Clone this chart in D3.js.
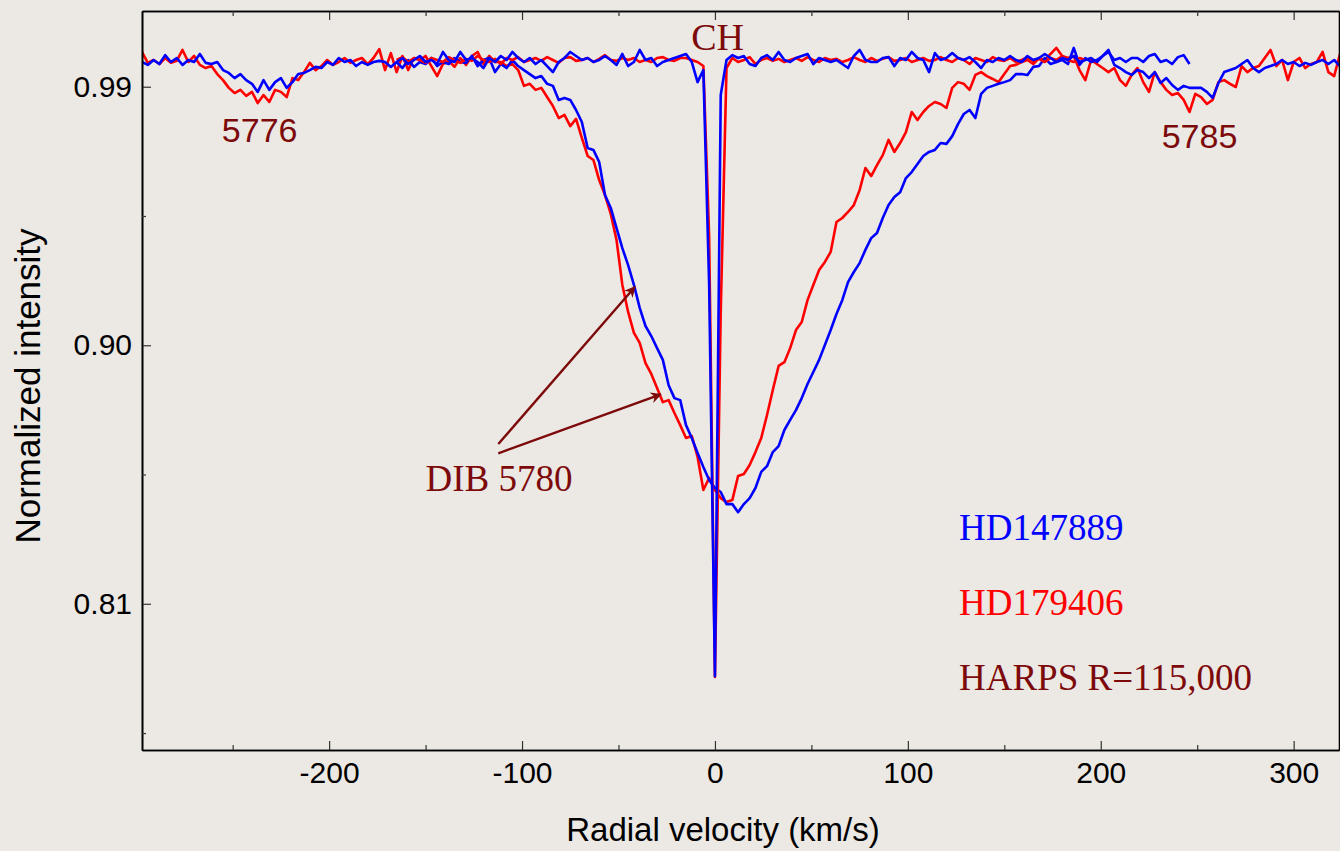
<!DOCTYPE html>
<html>
<head>
<meta charset="utf-8">
<script src="https://cdn.jsdelivr.net/npm/d3@7"></script>
<style>
  body { margin: 0; background: #ece8e4; }
  svg { display: block; }
  .tick text { font-family: "Liberation Sans", Arial, sans-serif; font-size: 30px; fill: #000; }
</style>
</head>
<body>
<svg id="chart" width="1340" height="851"></svg>
<script>
// velocity grid of the spectra (km/s)
const dibStart = -297;
const chStart = -165;
const velStep = 3;

// HD179406, full range (DIB 5776, 5780, 5785)
const redDib = [
  1.0021, 0.9983, 0.9993, 0.9979, 1.0000, 0.9983, 0.9990, 1.0028, 0.9986, 1.0007,
  0.9976, 0.9965, 0.9972, 0.9944, 0.9923, 0.9896, 0.9878, 0.9889, 0.9868, 0.9882,
  0.9843, 0.9871, 0.9847, 0.9889, 0.9882, 0.9864, 0.9930, 0.9923, 0.9951, 0.9983,
  0.9958, 0.9972, 0.9993, 0.9976, 0.9986, 1.0000, 0.9983, 0.9993, 1.0000, 0.9979,
  1.0000, 1.0031, 0.9958, 1.0017, 0.9951, 1.0007, 0.9958, 1.0000, 0.9993, 1.0007,
  0.9972, 0.9937, 0.9979, 0.9990, 0.9969, 1.0000, 0.9976, 1.0007, 1.0021, 0.9979,
  1.0007, 0.9986, 0.9986, 0.9972, 0.9979, 0.9958, 0.9903, 0.9910, 0.9889, 0.9896,
  0.9864, 0.9833, 0.9791, 0.9802, 0.9763, 0.9788, 0.9722, 0.9659, 0.9645, 0.9575,
  0.9523, 0.9457, 0.9366, 0.9210, 0.9116, 0.9043, 0.9008, 0.8938, 0.8900, 0.8851,
  0.8802, 0.8809, 0.8764, 0.8722, 0.8677, 0.8684, 0.8611, 0.8496, 0.8538, 0.8496,
  0.8468, 0.8454, 0.8461, 0.8545, 0.8552, 0.8583, 0.8628, 0.8677, 0.8757, 0.8844,
  0.8928, 0.8941, 0.8990, 0.9053, 0.9081, 0.9157, 0.9210, 0.9262, 0.9290, 0.9325,
  0.9429, 0.9443, 0.9464, 0.9488, 0.9540, 0.9617, 0.9589, 0.9627, 0.9662, 0.9715,
  0.9673, 0.9704, 0.9742, 0.9812, 0.9784, 0.9812, 0.9833, 0.9847, 0.9840, 0.9826,
  0.9896, 0.9916, 0.9910, 0.9889, 0.9941, 0.9951, 0.9937, 0.9927, 0.9916, 0.9944,
  0.9972, 0.9976, 0.9986, 0.9993, 0.9979, 1.0000, 0.9993, 1.0014, 1.0035, 1.0007,
  1.0000, 1.0007, 0.9958, 0.9923, 0.9993, 0.9979, 0.9965, 0.9951, 0.9965, 0.9923,
  0.9903, 0.9941, 0.9965, 0.9916, 0.9882, 0.9951, 0.9916, 0.9889, 0.9871, 0.9878,
  0.9854, 0.9812, 0.9875, 0.9864, 0.9840, 0.9854, 0.9916, 0.9923, 0.9910, 0.9899,
  0.9972, 0.9951, 0.9965, 0.9972, 1.0000, 1.0028, 0.9972, 0.9993, 0.9923, 0.9986,
  1.0000, 0.9965, 0.9979, 0.9986, 1.0021, 0.9951, 0.9937, 1.0014
];

// HD147889, full range
const blueDib = [
  0.9986, 0.9976, 0.9993, 0.9979, 1.0010, 0.9986, 1.0000, 0.9976, 0.9993, 0.9986,
  1.0014, 0.9983, 0.9979, 0.9986, 0.9958, 0.9948, 0.9930, 0.9944, 0.9923, 0.9910,
  0.9882, 0.9923, 0.9889, 0.9916, 0.9930, 0.9896, 0.9916, 0.9944, 0.9948, 0.9958,
  0.9969, 0.9965, 0.9986, 0.9976, 1.0000, 0.9986, 0.9993, 0.9972, 0.9986, 0.9976,
  0.9986, 0.9990, 0.9986, 0.9969, 0.9986, 0.9965, 0.9993, 0.9969, 0.9986, 0.9979,
  1.0000, 0.9972, 0.9986, 0.9979, 1.0000, 0.9986, 0.9983, 1.0007, 0.9972, 0.9993,
  1.0000, 0.9951, 0.9979, 0.9965, 0.9993, 0.9972, 0.9958, 0.9944, 0.9930, 0.9937,
  0.9910, 0.9903, 0.9854, 0.9861, 0.9854, 0.9819, 0.9777, 0.9687, 0.9680, 0.9638,
  0.9523, 0.9478, 0.9408, 0.9338, 0.9279, 0.9210, 0.9130, 0.9067, 0.9032, 0.8990,
  0.8949, 0.8861, 0.8816, 0.8809, 0.8722, 0.8677, 0.8625, 0.8576, 0.8531, 0.8503,
  0.8489, 0.8447, 0.8447, 0.8419, 0.8447, 0.8468, 0.8503, 0.8559, 0.8579, 0.8628,
  0.8649, 0.8705, 0.8740, 0.8774, 0.8816, 0.8865, 0.8907, 0.8949, 0.9001, 0.9053,
  0.9109, 0.9157, 0.9220, 0.9255, 0.9286, 0.9332, 0.9373, 0.9391, 0.9443, 0.9488,
  0.9516, 0.9533, 0.9582, 0.9603, 0.9631, 0.9659, 0.9673, 0.9680, 0.9704, 0.9701,
  0.9728, 0.9770, 0.9805, 0.9819, 0.9791, 0.9875, 0.9896, 0.9903, 0.9910, 0.9916,
  0.9923, 0.9944, 0.9944, 0.9941, 0.9969, 0.9972, 1.0000, 0.9979, 0.9986, 0.9993,
  0.9979, 1.0035, 0.9976, 1.0000, 0.9986, 0.9993, 1.0007, 1.0028, 0.9976, 0.9965,
  0.9951, 0.9941, 0.9958, 0.9951, 0.9930, 0.9951, 0.9913, 0.9930, 0.9906, 0.9889,
  0.9903, 0.9896, 0.9896, 0.9896, 0.9882, 0.9861, 0.9913, 0.9951, 0.9958, 0.9965,
  0.9979, 0.9993, 0.9965, 0.9951, 0.9965, 0.9972, 0.9979, 0.9993, 0.9979, 0.9986,
  0.9972, 0.9983, 0.9976, 0.9986, 0.9993, 0.9979, 0.9993, 0.9972
];

// CH line, HD179406
const redCh = [
  0.9993, 1.0003, 0.9986, 1.0000, 0.9993, 0.9983, 1.0000, 0.9993, 0.9986, 1.0003,
  0.9993, 0.9983, 0.9997, 0.9990, 1.0007, 0.9993, 0.9986, 0.9997, 0.9979, 1.0000,
  0.9993, 1.0003, 0.9986, 0.9993, 1.0000, 0.9990, 1.0003, 0.9993, 0.9983, 1.0000,
  1.0003, 0.9990, 0.9993, 1.0000, 0.9986, 0.9997, 1.0010, 0.9993, 0.9990, 1.0000,
  0.9993, 1.0000, 0.9986, 0.9993, 0.9986, 1.0000, 1.0003, 0.9993, 0.9990, 1.0000,
  1.0000, 0.9993, 0.9986, 0.9972, 0.9377, 0.7845, 0.9116, 0.9965, 1.0000, 0.9986,
  0.9993, 1.0003, 0.9979, 0.9993, 1.0000, 0.9990, 0.9997, 0.9986, 0.9993, 1.0000,
  0.9990, 1.0003, 0.9993, 0.9986, 1.0000, 0.9993, 0.9997, 0.9986, 0.9993, 1.0003,
  0.9993, 0.9986, 1.0000, 0.9990, 0.9997, 1.0003, 0.9990, 0.9993, 1.0000, 0.9986,
  0.9993, 1.0000, 0.9990, 0.9993, 1.0003, 0.9993, 0.9986, 1.0000, 0.9993, 0.9979,
  1.0000, 0.9993, 0.9986, 1.0003, 0.9993, 0.9990, 1.0000, 0.9986, 0.9993, 1.0003,
  0.9990, 0.9997, 0.9986, 1.0000, 0.9993, 1.0007, 0.9993, 0.9986, 1.0000, 0.9993
];

// CH line, HD147889
const blueCh = [
  0.9986, 1.0000, 0.9979, 0.9993, 1.0007, 0.9986, 0.9993, 0.9979, 1.0021, 0.9993,
  0.9986, 1.0021, 0.9993, 1.0000, 0.9986, 0.9965, 1.0000, 0.9986, 1.0007, 0.9993,
  1.0021, 1.0000, 0.9986, 1.0000, 0.9979, 0.9993, 0.9972, 0.9951, 0.9986, 1.0000,
  1.0021, 1.0007, 0.9993, 1.0000, 0.9986, 0.9993, 1.0007, 0.9993, 0.9976, 1.0014,
  0.9972, 0.9986, 1.0028, 0.9993, 1.0000, 0.9972, 0.9986, 0.9993, 1.0000, 1.0007,
  1.0014, 0.9986, 0.9916, 0.9958, 0.9210, 0.7848, 0.9871, 0.9993, 1.0010, 1.0000,
  1.0007, 0.9979, 0.9972, 1.0000, 1.0010, 0.9993, 1.0021, 0.9993, 0.9986, 1.0000,
  1.0007, 1.0014, 0.9979, 1.0000, 0.9993, 0.9986, 0.9993, 0.9979, 0.9965, 1.0007,
  1.0028, 0.9993, 0.9986, 0.9986, 1.0000, 1.0003, 0.9972, 1.0000, 0.9993, 1.0021,
  1.0000, 0.9993, 0.9951, 1.0017, 0.9993, 1.0000, 1.0017, 1.0000, 0.9993, 1.0003,
  0.9986, 0.9965, 0.9993, 0.9986, 1.0000, 0.9993, 1.0007, 0.9993, 0.9986, 1.0007,
  0.9993, 1.0000, 1.0014, 1.0000, 0.9986, 1.0000, 0.9993, 1.0007, 0.9986, 0.9993,
  1.0000, 0.9986, 1.0007, 1.0021, 0.9993, 1.0000, 0.9986, 1.0000, 1.0000, 0.9986,
  1.0007, 1.0014, 0.9986, 0.9993, 0.9979, 1.0003, 1.0010, 0.9979
];

const xMajor = [-200, -100, 0, 100, 200, 300];
const xMinor = [-250, -150, -50, 50, 150, 250];
const yMajor = [0.99, 0.90, 0.81];
const yMinor = [0.945, 0.855, 0.765];

const maroon = "#7d0a0a";
const serif = "'Liberation Serif', 'Times New Roman', serif";
const sans = "'Liberation Sans', Arial, sans-serif";

const plot = { left: 142, right: 1339, top: 11, bottom: 750 };

const svg = d3.select("#chart");

const x = d3.scaleLinear().domain([-297, 323.5]).range([plot.left, plot.right]);
const y = d3.scaleLinear().domain([0.7591, 1.01636]).range([plot.bottom, plot.top]);

const toPoints = (vals, start) => vals.map((d, i) => [start + i * velStep, d]);

svg.append("defs").append("clipPath").attr("id", "clip")
  .append("rect")
  .attr("x", plot.left).attr("y", plot.top)
  .attr("width", plot.right - plot.left).attr("height", plot.bottom - plot.top);

const line = d3.line().x(d => x(d[0])).y(d => y(d[1]));

const series = [
  { pts: toPoints(redDib, dibStart), color: "#ff0000" },
  { pts: toPoints(blueDib, dibStart), color: "#0000ff" },
  { pts: toPoints(redCh, chStart), color: "#ff0000" },
  { pts: toPoints(blueCh, chStart), color: "#0000ff" }
];

svg.append("g").attr("clip-path", "url(#clip)")
  .selectAll("path")
  .data(series)
  .enter()
  .append("path")
  .attr("d", d => line(d.pts))
  .attr("fill", "none")
  .attr("stroke", d => d.color)
  .attr("stroke-width", 2.6)
  .attr("stroke-linejoin", "round");

// axes, ticks pointing inward
function styleAxis(g) {
  g.select(".domain").attr("stroke", "#000").attr("stroke-width", 1.6);
  g.selectAll(".tick line").attr("stroke", "#333").attr("stroke-width", 1.2);
}

svg.append("g")
  .attr("transform", `translate(0,${plot.bottom})`)
  .call(d3.axisBottom(x).tickValues(xMajor).tickSize(-9).tickSizeOuter(0).tickPadding(12).tickFormat(d => String(d)))
  .call(styleAxis);
svg.append("g")
  .attr("transform", `translate(0,${plot.bottom})`)
  .call(d3.axisBottom(x).tickValues(xMinor).tickSize(-5).tickSizeOuter(0).tickFormat(""))
  .call(styleAxis);
svg.append("g")
  .attr("transform", `translate(0,${plot.top})`)
  .call(d3.axisTop(x).tickValues(xMajor).tickSize(-9).tickSizeOuter(0).tickFormat(""))
  .call(styleAxis);
svg.append("g")
  .attr("transform", `translate(0,${plot.top})`)
  .call(d3.axisTop(x).tickValues(xMinor).tickSize(-5).tickSizeOuter(0).tickFormat(""))
  .call(styleAxis);

svg.append("g")
  .attr("transform", `translate(${plot.left},0)`)
  .call(d3.axisLeft(y).tickValues(yMajor).tickSize(-9).tickSizeOuter(0).tickPadding(10).tickFormat(d3.format(".2f")))
  .call(styleAxis);
svg.append("g")
  .attr("transform", `translate(${plot.left},0)`)
  .call(d3.axisLeft(y).tickValues(yMinor).tickSize(-4).tickSizeOuter(0).tickFormat(""))
  .call(styleAxis);
svg.append("g")
  .attr("transform", `translate(${plot.right},0)`)
  .call(d3.axisRight(y).tickValues([]).tickSizeOuter(0))
  .call(styleAxis);

// axis titles
svg.append("text")
  .attr("x", 723).attr("y", 841)
  .attr("text-anchor", "middle")
  .style("font-family", sans).style("font-size", "33px")
  .text("Radial velocity (km/s)");

svg.append("text")
  .attr("transform", "translate(40,386) rotate(-90)")
  .attr("text-anchor", "middle")
  .style("font-family", sans).style("font-size", "35px")
  .text("Normalized intensity");

// annotations (velocity, intensity at text baseline)
const labels = [
  { text: "CH", v: -12.3, i: 1.0028, anchor: "start", font: serif, size: 38, color: maroon },
  { text: "5776", v: -255.6, i: 0.9709, anchor: "start", font: sans, size: 34, color: maroon },
  { text: "5785", v: 231.6, i: 0.9686, anchor: "start", font: sans, size: 34, color: maroon },
  { text: "DIB 5780", v: -73.8, i: 0.8493, anchor: "end", font: serif, size: 37, color: maroon },
  { text: "HD147889", v: 126.5, i: 0.8322, anchor: "start", font: serif, size: 37, color: "#0000ff" },
  { text: "HD179406", v: 126.5, i: 0.8061, anchor: "start", font: serif, size: 37, color: "#ff0000" },
  { text: "HARPS R=115,000", v: 126.5, i: 0.7799, anchor: "start", font: serif, size: 37, color: maroon }
];

svg.append("g").selectAll("text")
  .data(labels)
  .enter()
  .append("text")
  .attr("x", d => x(d.v))
  .attr("y", d => y(d.i))
  .attr("text-anchor", d => d.anchor)
  .style("font-family", d => d.font)
  .style("font-size", d => d.size + "px")
  .attr("fill", d => d.color)
  .text(d => d.text);

// arrows pointing at the DIB 5780 profiles
svg.append("defs").append("marker")
  .attr("id", "arrow")
  .attr("viewBox", "0 0 10 10")
  .attr("refX", 9).attr("refY", 5)
  .attr("markerUnits", "userSpaceOnUse")
  .attr("markerWidth", 15).attr("markerHeight", 11)
  .attr("orient", "auto")
  .append("path")
  .attr("d", "M0,0 L10,5 L0,10 L3,5 Z")
  .attr("fill", maroon);

const arrows = [
  { from: [-112.3, 0.8656], to: [-41.5, 0.9203] },
  { from: [-112.3, 0.8624], to: [-28.1, 0.8829] }
];

svg.append("g").selectAll("line")
  .data(arrows)
  .enter()
  .append("line")
  .attr("x1", d => x(d.from[0])).attr("y1", d => y(d.from[1]))
  .attr("x2", d => x(d.to[0])).attr("y2", d => y(d.to[1]))
  .attr("stroke", maroon)
  .attr("stroke-width", 2.4)
  .attr("marker-end", "url(#arrow)");
</script>
</body>
</html>
